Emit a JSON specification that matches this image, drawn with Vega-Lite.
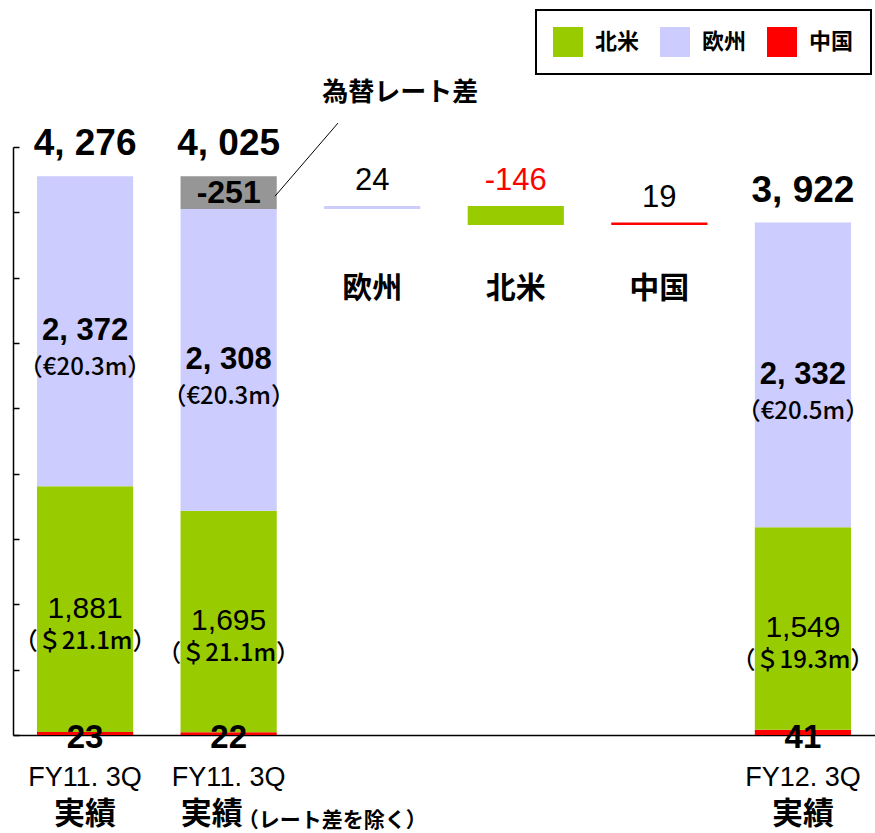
{
  "$schema": "https://vega.github.io/schema/vega-lite/v6.json",
  "width": 862,
  "height": 588,
  "autosize": {"type": "none"},
  "padding": {"left": 13, "top": 147, "right": 0, "bottom": 98},
  "background": "white",
  "config": {
    "view": {"stroke": null},
    "axisY": {"labels": false, "ticks": true, "tickSize": -6, "tickColor": "black", "tickWidth": 1.5, "domainColor": "black", "domainWidth": 1.5, "grid": false, "title": null},
    "axisX": {"labels": false, "ticks": false, "domainColor": "black", "domainWidth": 1.5, "grid": false, "title": null}
  },
  "datasets": {
    "bars": [
      {"cat": "FY11.3Q実績", "series": "中国", "start": 0, "end": 23, "pos": "base", "label": "23"},
      {"cat": "FY11.3Q実績", "series": "北米", "start": 23, "end": 1904, "pos": "mid", "label": "1,881", "sub": "（＄21.1m）"},
      {"cat": "FY11.3Q実績", "series": "欧州", "start": 1904, "end": 4276, "pos": "mid", "label": "2, 372", "sub": "（€20.3m）", "top": "4, 276"},
      {"cat": "FY11.3Q実績（レート差を除く）", "series": "中国", "start": 0, "end": 22, "pos": "base", "label": "22"},
      {"cat": "FY11.3Q実績（レート差を除く）", "series": "北米", "start": 22, "end": 1717, "pos": "mid", "label": "1,695", "sub": "（＄21.1m）"},
      {"cat": "FY11.3Q実績（レート差を除く）", "series": "欧州", "start": 1717, "end": 4025, "pos": "mid", "label": "2, 308", "sub": "（€20.3m）"},
      {"cat": "FY11.3Q実績（レート差を除く）", "series": "為替レート差", "start": 4025, "end": 4276, "pos": "mid", "label": "-251", "top": "4, 025"},
      {"cat": "欧州差", "series": "欧州", "start": 4025, "end": 4049, "pos": "chg", "chg": "24", "catlabel": "欧州", "neg": false},
      {"cat": "北米差", "series": "北米", "start": 4049, "end": 3903, "pos": "chg", "chg": "-146", "catlabel": "北米", "neg": true},
      {"cat": "中国差", "series": "中国", "start": 3903, "end": 3922, "pos": "chg", "chg": "19", "catlabel": "中国", "neg": false},
      {"cat": "FY12.3Q実績", "series": "中国", "start": 0, "end": 41, "pos": "base", "label": "41"},
      {"cat": "FY12.3Q実績", "series": "北米", "start": 41, "end": 1590, "pos": "mid", "label": "1,549", "sub": "（＄19.3m）"},
      {"cat": "FY12.3Q実績", "series": "欧州", "start": 1590, "end": 3922, "pos": "mid", "label": "2, 332", "sub": "（€20.5m）", "top": "3, 922"}
    ],
    "cats": [
      {"cat": "FY11.3Q実績", "l1": "FY11. 3Q", "l2": "実績", "ex": false},
      {"cat": "FY11.3Q実績（レート差を除く）", "l1": "FY11. 3Q", "l2": "実績", "l3": "（レート差を除く）", "ex": true},
      {"cat": "FY12.3Q実績", "l1": "FY12. 3Q", "l2": "実績", "ex": false}
    ],
    "annot": [
      {"cat": "欧州差", "text": "為替レート差"}
    ]
  },
  "resolve": {"scale": {"x": "independent"}, "axis": {"x": "independent"}},
  "layer": [
    {
      "layer": [
        {
          "data": {"name": "bars"},
          "mark": {"type": "bar"},
          "encoding": {
            "x": {"field": "cat", "type": "nominal", "title": null,
                  "scale": {"domain": ["FY11.3Q実績", "FY11.3Q実績（レート差を除く）", "欧州差", "北米差", "中国差", "FY12.3Q実績"], "paddingInner": 0.33, "paddingOuter": 0.167}},
            "y": {"field": "start", "type": "quantitative", "title": null, "scale": {"domain": [0, 4500], "nice": false, "zero": true},
                  "axis": {"values": [0, 500, 1000, 1500, 2000, 2500, 3000, 3500, 4000, 4500]}},
            "y2": {"field": "end"},
            "color": {"field": "series", "type": "nominal",
                      "scale": {"domain": ["北米", "欧州", "中国", "為替レート差"], "range": ["#99CC00", "#CCCCFF", "#FF0000", "#969696"]},
                      "legend": {"orient": "none", "legendX": 523, "legendY": -137, "direction": "horizontal", "title": null,
                                 "values": ["北米", "欧州", "中国"], "symbolType": "square", "symbolSize": 900, "symbolStrokeWidth": 0, "symbolOpacity": 1,
                                 "labelFont": "Noto Sans CJK JP", "labelFontSize": 22, "labelFontWeight": "bold", "labelColor": "black",
                                 "labelOffset": 12, "columnPadding": 20, "padding": 17, "strokeColor": "black", "fillColor": "white",
                                 "encode": {"legend": {"update": {"strokeWidth": {"value": 2}}}}}}
          }
        },
        {
          "data": {"name": "annot"},
          "mark": {"type": "text", "font": "Noto Sans CJK JP", "fontSize": 26, "fontWeight": "bold", "align": "left", "dx": -50, "baseline": "middle", "color": "black"},
          "encoding": {
            "x": {"field": "cat", "type": "nominal", "title": null},
            "y": {"datum": 4912, "type": "quantitative"},
            "text": {"field": "text"}
          }
        },
        {
          "data": {"name": "bars"},
          "transform": [{"filter": "datum.top != null"}],
          "mark": {"type": "text", "font": "Liberation Sans", "fontSize": 37, "fontWeight": "bold", "baseline": "middle", "dy": -32, "color": "black"},
          "encoding": {
            "x": {"field": "cat", "type": "nominal", "title": null},
            "y": {"field": "end", "type": "quantitative", "title": null},
            "text": {"field": "top"}
          }
        },
        {
          "data": {"name": "bars"},
          "transform": [
            {"filter": "datum.pos == 'chg'"},
            {"fold": ["start", "end"], "as": ["k", "v"]},
            {"aggregate": [{"op": "max", "field": "v", "as": "hi"}], "groupby": ["cat", "chg", "neg"]}
          ],
          "mark": {"type": "text", "font": "Liberation Sans", "fontSize": 31, "baseline": "middle", "dy": -25},
          "encoding": {
            "x": {"field": "cat", "type": "nominal", "title": null},
            "y": {"field": "hi", "type": "quantitative", "title": null},
            "text": {"field": "chg"},
            "color": {"condition": {"test": "datum.neg", "value": "#FF0000"}, "value": "black"}
          }
        },
        {
          "data": {"name": "bars"},
          "transform": [{"filter": "datum.pos == 'chg'"}],
          "mark": {"type": "text", "font": "Noto Sans CJK JP", "fontSize": 30, "fontWeight": "bold", "baseline": "middle", "color": "black"},
          "encoding": {
            "x": {"field": "cat", "type": "nominal", "title": null},
            "y": {"datum": 3410, "type": "quantitative"},
            "text": {"field": "catlabel"}
          }
        },
        {
          "data": {"name": "bars"},
          "transform": [
            {"filter": "datum.pos == 'mid' && datum.series == '欧州'"},
            {"fold": ["start", "end"], "as": ["k", "v"]},
            {"aggregate": [{"op": "mean", "field": "v", "as": "mid"}], "groupby": ["cat", "label", "sub"]}
          ],
          "layer": [
            {
              "mark": {"type": "text", "font": "Liberation Sans", "fontSize": 31, "fontWeight": "bold", "baseline": "middle", "color": "black"},
              "encoding": {
                "x": {"field": "cat", "type": "nominal", "title": null},
                "y": {"field": "mid", "type": "quantitative", "title": null},
                "text": {"field": "label"}
              }
            },
            {
              "mark": {"type": "text", "font": "Noto Sans CJK JP", "fontSize": 24, "fontWeight": 500, "baseline": "middle", "dy": 37, "color": "black"},
              "encoding": {
                "x": {"field": "cat", "type": "nominal", "title": null},
                "y": {"field": "mid", "type": "quantitative", "title": null},
                "text": {"field": "sub"}
              }
            }
          ]
        },
        {
          "data": {"name": "bars"},
          "transform": [
            {"filter": "datum.pos == 'mid' && datum.series == '北米'"},
            {"fold": ["start", "end"], "as": ["k", "v"]},
            {"aggregate": [{"op": "mean", "field": "v", "as": "mid"}], "groupby": ["cat", "label", "sub"]}
          ],
          "layer": [
            {
              "mark": {"type": "text", "font": "Liberation Sans", "fontSize": 30, "baseline": "middle", "color": "black"},
              "encoding": {
                "x": {"field": "cat", "type": "nominal", "title": null},
                "y": {"field": "mid", "type": "quantitative", "title": null},
                "text": {"field": "label"}
              }
            },
            {
              "mark": {"type": "text", "font": "Noto Sans CJK JP", "fontSize": 24, "fontWeight": 500, "baseline": "middle", "dy": 33, "color": "black"},
              "encoding": {
                "x": {"field": "cat", "type": "nominal", "title": null},
                "y": {"field": "mid", "type": "quantitative", "title": null},
                "text": {"field": "sub"}
              }
            }
          ]
        },
        {
          "data": {"name": "bars"},
          "transform": [
            {"filter": "datum.series == '為替レート差'"},
            {"fold": ["start", "end"], "as": ["k", "v"]},
            {"aggregate": [{"op": "mean", "field": "v", "as": "mid"}], "groupby": ["cat", "label"]}
          ],
          "mark": {"type": "text", "font": "Liberation Sans", "fontSize": 32, "fontWeight": "bold", "baseline": "middle", "color": "black"},
          "encoding": {
            "x": {"field": "cat", "type": "nominal", "title": null},
            "y": {"field": "mid", "type": "quantitative", "title": null},
            "text": {"field": "label"}
          }
        },
        {
          "data": {"name": "bars"},
          "transform": [{"filter": "datum.pos == 'base'"}],
          "mark": {"type": "text", "font": "Liberation Sans", "fontSize": 33, "fontWeight": "bold", "baseline": "middle", "dy": 3, "color": "black"},
          "encoding": {
            "x": {"field": "cat", "type": "nominal", "title": null},
            "y": {"field": "start", "type": "quantitative", "title": null},
            "text": {"field": "label"}
          }
        },
        {
          "data": {"name": "cats"},
          "mark": {"type": "text", "font": "Liberation Sans", "fontSize": 27, "baseline": "middle", "dy": 43, "color": "black"},
          "encoding": {
            "x": {"field": "cat", "type": "nominal", "title": null},
            "y": {"datum": 0, "type": "quantitative"},
            "text": {"field": "l1"}
          }
        },
        {
          "data": {"name": "cats"},
          "transform": [{"filter": "!datum.ex"}],
          "mark": {"type": "text", "font": "Noto Sans CJK JP", "fontSize": 31, "fontWeight": "bold", "baseline": "middle", "dy": 80, "color": "black"},
          "encoding": {
            "x": {"field": "cat", "type": "nominal", "title": null},
            "y": {"datum": 0, "type": "quantitative"},
            "text": {"field": "l2"}
          }
        },
        {
          "data": {"name": "cats"},
          "transform": [{"filter": "datum.ex"}],
          "mark": {"type": "text", "font": "Noto Sans CJK JP", "fontSize": 31, "fontWeight": "bold", "baseline": "middle", "dy": 80, "dx": -17, "color": "black"},
          "encoding": {
            "x": {"field": "cat", "type": "nominal", "title": null},
            "y": {"datum": 0, "type": "quantitative"},
            "text": {"field": "l2"}
          }
        },
        {
          "data": {"name": "cats"},
          "transform": [{"filter": "datum.ex"}],
          "mark": {"type": "text", "font": "Noto Sans CJK JP", "fontSize": 21, "fontWeight": "bold", "align": "left", "baseline": "middle", "dy": 86, "dx": 9, "color": "black"},
          "encoding": {
            "x": {"field": "cat", "type": "nominal", "title": null},
            "y": {"datum": 0, "type": "quantitative"},
            "text": {"field": "l3"}
          }
        }
      ]
    },
    {
      "data": {"name": "annot"},
      "mark": {"type": "rule", "color": "black", "strokeWidth": 1},
      "encoding": {
        "x": {"datum": 1.824, "type": "quantitative", "scale": {"domain": [0, 6], "nice": false, "zero": false}, "axis": null},
        "x2": {"datum": 2.262},
        "y": {"datum": 4124, "type": "quantitative"},
        "y2": {"datum": 4683}
      }
    }
  ]
}
